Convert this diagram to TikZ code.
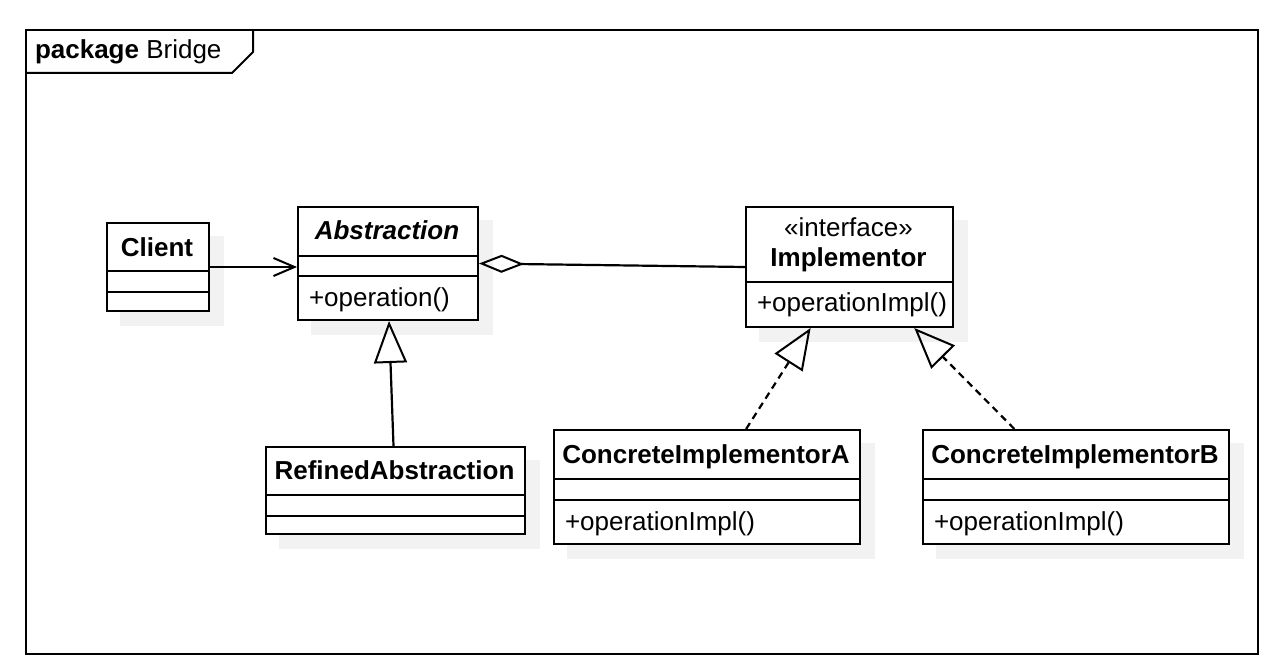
\documentclass[tikz,border=0pt]{standalone}
\usepackage{fontspec}
\setmainfont{Liberation Sans}
\usetikzlibrary{arrows.meta,calc}
\definecolor{shadowgray}{HTML}{F2F2F2}
\pgfdeclarelayer{bg}
\pgfsetlayers{bg,main}
\begin{document}
\begin{tikzpicture}[x=1pt,y=-1pt,line width=2pt,
  font=\fontsize{26}{31}\selectfont,
  umlbox/.style={draw,fill=white,inner sep=0pt,anchor=north west,line width=2pt},
  titletext/.style={anchor=base,inner sep=0pt,font=\fontsize{26}{31}\selectfont\bfseries},
  methtext/.style={anchor=base west,inner sep=0pt},
  conn/.style={draw,line width=2.2pt},
  realize/.style={conn,dash pattern=on 7pt off 5pt},
  shadow/.style={fill=shadowgray,draw=none}]
\useasboundingbox (0,0) rectangle (1276,668);

% package frame
\draw[line width=2pt] (26,30) rectangle (1258,654);
\draw[line width=2pt] (26,73) -- (232,73) -- (253,52) -- (253,30);
\node[anchor=base west,inner sep=0pt] (pkg) at (34,59) {\textbf{package} Bridge};

% Client
\node[umlbox,minimum width=102pt,minimum height=88pt] (client) at (106,222) {};
\draw (client.west |- 0,271) -- (client.east |- 0,271);
\draw (client.west |- 0,292) -- (client.east |- 0,292);
\node[titletext] (clientT) at (157,256.5) {Client};

% Abstraction
\node[umlbox,minimum width=180pt,minimum height=113pt] (abstr) at (297,206) {};
\draw (abstr.west |- 0,256) -- (abstr.east |- 0,256);
\draw (abstr.west |- 0,276) -- (abstr.east |- 0,276);
\node[titletext,font=\fontsize{26}{31}\selectfont\bfseries\itshape] (abstrT) at (387,239.5) {Abstraction};
\node[methtext] (abstrM) at (308,306.5) {+operation()};

% Implementor
\node[umlbox,minimum width=207pt,minimum height=120pt] (impl) at (745,206) {};
\draw (impl.west |- 0,282) -- (impl.east |- 0,282);
\node[anchor=base,inner sep=0pt] (implS) at (848.5,237) {«interface»};
\node[titletext] (implT) at (848.5,266.5) {Implementor};
\node[methtext] (implM) at (756,311) {+operationImpl()};

% RefinedAbstraction
\node[umlbox,minimum width=259pt,minimum height=87pt] (refined) at (265,446) {};
\draw (refined.west |- 0,495) -- (refined.east |- 0,495);
\draw (refined.west |- 0,516) -- (refined.east |- 0,516);
\node[titletext] (refinedT) at (394.5,479) {RefinedAbstraction};

% ConcreteImplementorA
\node[umlbox,minimum width=306pt,minimum height=114pt] (ciA) at (553,429) {};
\draw (ciA.west |- 0,479) -- (ciA.east |- 0,479);
\draw (ciA.west |- 0,500) -- (ciA.east |- 0,500);
\node[titletext] (ciAT) at (706,463.5) {ConcreteImplementorA};
\node[methtext] (ciAM) at (564,530) {+operationImpl()};

% ConcreteImplementorB
\node[umlbox,minimum width=306pt,minimum height=114pt] (ciB) at (922,429) {};
\draw (ciB.west |- 0,479) -- (ciB.east |- 0,479);
\draw (ciB.west |- 0,500) -- (ciB.east |- 0,500);
\node[titletext] (ciBT) at (1075,463.5) {ConcreteImplementorB};
\node[methtext] (ciBM) at (933,530) {+operationImpl()};

% shadows
\begin{pgfonlayer}{bg}
\foreach \n in {client,abstr,impl,refined,ciA,ciB}{
  \fill[shadow] ($(\n.north west)+(14,14)$) rectangle ($(\n.south east)+(14,14)$);
}
\end{pgfonlayer}

% connectors
\draw[conn,-{Straight Barb[length=21pt,width=18pt,line width=2pt]}] (client.east) -- (abstr.west |- client.east);
\draw[conn,{Diamond[open,length=45pt,width=18pt,line width=2pt]}-] (abstr.east) -- (impl.west);
\draw[conn,-{Triangle[open,length=42pt,width=33pt,line width=2pt]}] ($(refined.north)+(-2,0)$) -- ($(abstr.south)+(1,0)$);

\coordinate (aS) at ($(ciA.north west)!0.627!(ciA.north east)$);
\coordinate (aE) at ($(impl.south west)!0.314!(impl.south east)$);
\coordinate (bS) at ($(ciB.north west)!0.30!(ciB.north east)$);
\coordinate (bE) at ($(impl.south west)!0.81!(impl.south east)$);
\draw[realize,-{Triangle[open,length=41pt,width=33pt,line width=2pt]}] (aS) -- (aE);
\draw[realize,-{Triangle[open,length=41pt,width=33pt,line width=2pt]}] (bS) -- (bE);
\end{tikzpicture}
\end{document}
